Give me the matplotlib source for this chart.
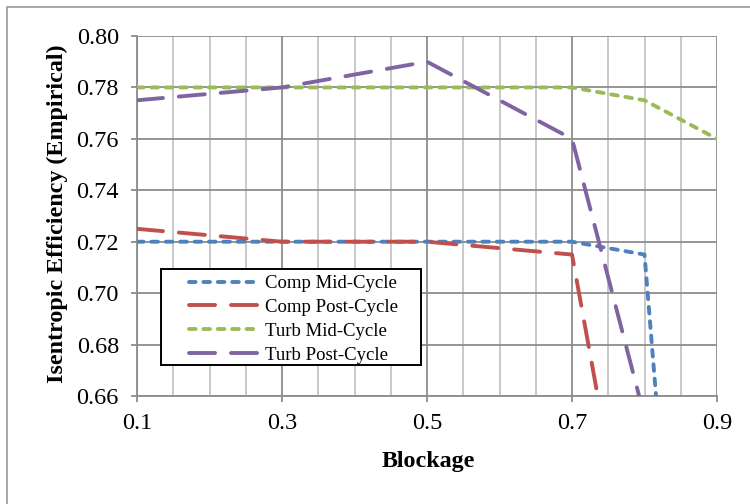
import matplotlib
matplotlib.use("Agg")
import matplotlib.pyplot as plt
from matplotlib.patches import Rectangle
from matplotlib.ticker import MultipleLocator

plt.rcParams['font.family'] = ['Liberation Serif', 'DejaVu Serif']

# Data
comp_mid_x = [0.1, 0.3, 0.5, 0.7, 0.8, 0.9]
comp_mid_y = [0.72, 0.72, 0.72, 0.72, 0.715, 0.37]
comp_post_x = [0.1, 0.3, 0.5, 0.7, 0.8]
comp_post_y = [0.725, 0.72, 0.72, 0.715, 0.56]
turb_mid_x = [0.1, 0.3, 0.5, 0.7, 0.8, 0.9]
turb_mid_y = [0.78, 0.78, 0.78, 0.78, 0.775, 0.76]
turb_post_x = [0.1, 0.3, 0.5, 0.7, 0.8]
turb_post_y = [0.775, 0.78, 0.79, 0.76, 0.652]
labels = ["Comp Mid-Cycle", "Comp Post-Cycle", "Turb Mid-Cycle", "Turb Post-Cycle"]
xticks = [0.1, 0.3, 0.5, 0.7, 0.9]
yticks = [0.66, 0.68, 0.70, 0.72, 0.74, 0.76, 0.78, 0.80]

W, H = 750, 504
fig = plt.figure(figsize=(W / 100, H / 100), dpi=100)
fig.patch.set_facecolor('white')

# outer chart border
fig.patches.append(Rectangle((7 / W, -0.1), 1.2, 1 - 7 / H + 0.1,
                             transform=fig.transFigure, fill=False,
                             edgecolor='#9a9a9a', linewidth=1.2))

ax = fig.add_axes([137 / W, 1 - 396 / H, (717 - 137) / W, (396 - 36) / H])

short = (1.7, 2.0)
long_ = (6.7, 4.1)
lw = 2.8
series = [
    (comp_mid_x, comp_mid_y, '#4F81BD', short),
    (comp_post_x, comp_post_y, '#C0504D', long_),
    (turb_mid_x, turb_mid_y, '#9BBB59', short),
    (turb_post_x, turb_post_y, '#8064A2', long_),
]
for (xs, ys, c, d), lab in zip(series, labels):
    ax.plot(xs, ys, color=c, linewidth=lw, dashes=d, dash_capstyle='round',
            label=lab, zorder=3)

ax.set_xlim(0.1, 0.9)
ax.set_ylim(0.66, 0.80)
ax.set_xticks(xticks)
ax.set_xticklabels([f"{v:.1f}" for v in xticks])
ax.set_yticks(yticks)
ax.set_yticklabels([f"{v:.2f}" for v in yticks])
ax.xaxis.set_minor_locator(MultipleLocator(0.05))

ax.grid(which='major', axis='both', color='#8c8c8c', linewidth=1.3, zorder=1)
ax.grid(which='minor', axis='x', color='#c4c4c4', linewidth=1.3, zorder=1)
ax.set_axisbelow(True)

for s in ['left', 'bottom']:
    ax.spines[s].set_color('#8c8c8c')
    ax.spines[s].set_linewidth(1.3)
for s in ['top', 'right']:
    ax.spines[s].set_visible(False)

ax.tick_params(axis='both', which='major', direction='out', length=4,
               width=1.3, color='#8c8c8c', labelsize=17.5)
ax.tick_params(axis='x', which='major', pad=8)
ax.tick_params(axis='y', which='major', pad=9)
ax.tick_params(axis='x', which='minor', length=0)

fig.text(428 / W, 1 - 462 / H, "Blockage", ha='center', va='center',
         fontsize=17.3, fontweight='bold')
fig.text(57 / W, 1 - 214 / H, "Isentropic Efficiency (Empirical)", ha='center',
         va='center', rotation=90, fontsize=17.3, fontweight='bold')

# legend frame (Excel-style box)
frame = Rectangle((161 / W, 1 - 365 / H), 260 / W, 96 / H,
                  transform=fig.transFigure, facecolor='white',
                  edgecolor='black', linewidth=1.4, zorder=5, clip_on=False)
ax.add_patch(frame)

leg = ax.legend(loc='upper left',
                bbox_to_anchor=(189 / W, 1 - 275 / H),
                bbox_transform=fig.transFigure,
                fontsize=13.5, frameon=False,
                handlelength=3.73, handletextpad=0.32, labelspacing=0.36,
                borderpad=0.0, borderaxespad=0)
leg.set_zorder(6)

fig.savefig("out.png", dpi=100, facecolor='white')
